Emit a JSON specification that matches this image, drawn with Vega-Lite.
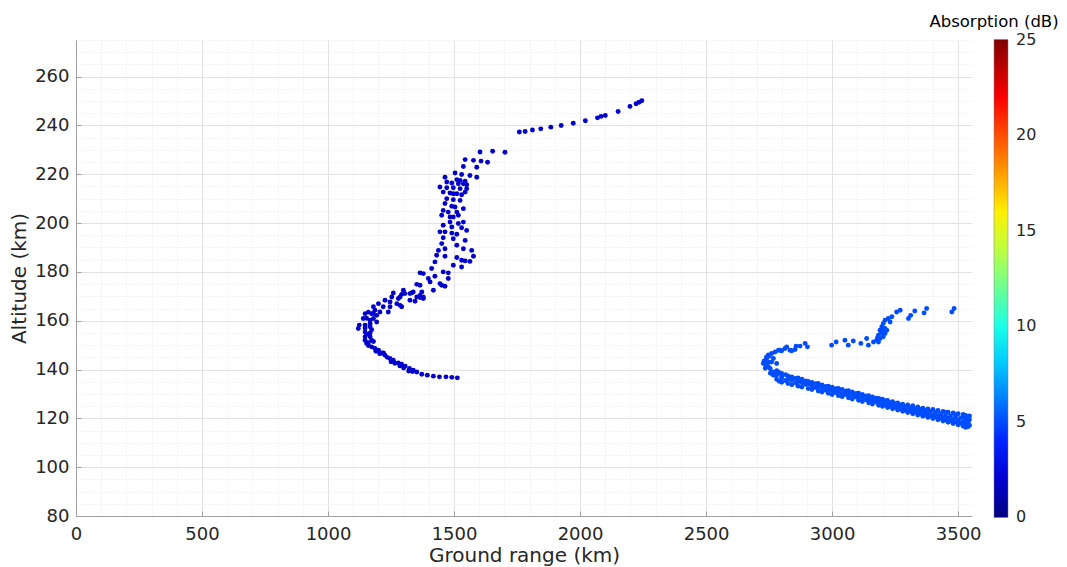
{
  "$schema": "https://vega.github.io/schema/vega-lite/v6.json",
  "width": 896,
  "height": 476,
  "autosize": {"type": "none"},
  "padding": {"left": 76, "top": 40, "right": 95, "bottom": 51},
  "background": "white",
  "config": {"view": {"stroke": null}, "font": "DejaVu Sans"},
  "datasets": {
    "pts": [
      {"x":2245,"y":250.1,"a":1.9},{"x":2234,"y":249.5,"a":1.9},{"x":2222,"y":248.9,"a":1.9},{"x":2198,"y":247.8,"a":1.9},{"x":2151,"y":245.7,"a":1.9},{"x":2100,"y":244.1,"a":1.9},{"x":2083,"y":243.7,"a":1.9},{"x":2069,"y":243.1,"a":1.9},{"x":2021,"y":241.9,"a":1.9},{"x":1973,"y":240.9,"a":1.9},{"x":1925,"y":240.0,"a":1.9},{"x":1884,"y":239.3,"a":1.9},{"x":1844,"y":238.6,"a":1.9},{"x":1811,"y":238.1,"a":1.9},{"x":1782,"y":237.5,"a":1.9},{"x":1759,"y":237.3,"a":1.9},{"x":1702,"y":229.0,"a":1.9},{"x":1653,"y":229.4,"a":1.9},{"x":1603,"y":229.1,"a":1.9},{"x":1633,"y":224.9,"a":1.9},
      {"x":1544,"y":226.0,"a":1.9},{"x":1577,"y":225.7,"a":1.9},{"x":1607,"y":225.4,"a":1.9},{"x":1537,"y":223.2,"a":1.9},{"x":1590,"y":222.9,"a":1.9},{"x":1504,"y":220.5,"a":1.9},{"x":1530,"y":219.9,"a":1.9},{"x":1563,"y":219.5,"a":1.9},{"x":1590,"y":218.8,"a":1.9},{"x":1464,"y":218.8,"a":1.9},{"x":1511,"y":217.8,"a":1.9},{"x":1524,"y":217.5,"a":1.9},{"x":1544,"y":217.2,"a":1.9},{"x":1471,"y":216.8,"a":1.9},{"x":1491,"y":216.4,"a":1.9},{"x":1517,"y":216.1,"a":1.9},{"x":1537,"y":216.1,"a":1.9},{"x":1550,"y":215.7,"a":1.9},{"x":1444,"y":214.8,"a":1.9},{"x":1471,"y":214.5,"a":1.9},{"x":1497,"y":214.5,"a":1.9},{"x":1524,"y":214.1,"a":1.9},{"x":1550,"y":214.1,"a":1.9},{"x":1457,"y":212.7,"a":1.9},{"x":1484,"y":212.3,"a":1.9},{"x":1497,"y":212.0,"a":1.9},{"x":1511,"y":212.0,"a":1.9},{"x":1530,"y":211.6,"a":1.9},{"x":1544,"y":212.7,"a":1.9},{"x":1471,"y":210.0,"a":1.9},{"x":1497,"y":209.6,"a":1.9},{"x":1524,"y":209.3,"a":1.9},{"x":1464,"y":208.0,"a":1.9},{"x":1491,"y":206.9,"a":1.9},{"x":1504,"y":206.6,"a":1.9},{"x":1537,"y":205.9,"a":1.9},{"x":1457,"y":205.2,"a":1.9},{"x":1477,"y":204.5,"a":1.9},{"x":1511,"y":204.5,"a":1.9},{"x":1451,"y":203.2,"a":1.9},{"x":1484,"y":202.5,"a":1.9},{"x":1497,"y":202.5,"a":1.9},{"x":1517,"y":203.2,"a":1.9},{"x":1484,"y":200.4,"a":1.9},{"x":1517,"y":199.8,"a":1.9},{"x":1537,"y":200.4,"a":1.9},{"x":1457,"y":199.1,"a":1.9},{"x":1491,"y":198.4,"a":1.9},{"x":1530,"y":198.1,"a":1.9},{"x":1444,"y":196.4,"a":1.9},{"x":1464,"y":196.4,"a":1.9},{"x":1491,"y":195.9,"a":1.9},{"x":1511,"y":195.4,"a":1.9},{"x":1550,"y":197.0,"a":1.9},{"x":1457,"y":194.0,"a":1.9},{"x":1497,"y":193.6,"a":1.9},{"x":1544,"y":192.9,"a":1.9},{"x":1451,"y":191.6,"a":1.9},{"x":1511,"y":190.9,"a":1.9},{"x":1464,"y":189.5,"a":1.9},{"x":1537,"y":189.5,"a":1.9},{"x":1570,"y":188.8,"a":1.9},{"x":1438,"y":188.8,"a":1.9},{"x":1431,"y":186.8,"a":1.9},{"x":1464,"y":186.4,"a":1.9},{"x":1511,"y":185.9,"a":1.9},{"x":1577,"y":186.4,"a":1.9},{"x":1530,"y":184.8,"a":1.9},{"x":1544,"y":184.5,"a":1.9},{"x":1563,"y":184.3,"a":1.9},{"x":1424,"y":184.1,"a":1.9},{"x":1497,"y":182.7,"a":1.9},{"x":1530,"y":182.0,"a":1.9},{"x":1411,"y":181.4,"a":1.9},{"x":1365,"y":179.6,"a":1.9},{"x":1378,"y":179.3,"a":1.9},{"x":1457,"y":180.0,"a":1.9},{"x":1477,"y":179.6,"a":1.9},{"x":1424,"y":178.2,"a":1.9},{"x":1398,"y":177.3,"a":1.9},{"x":1477,"y":177.3,"a":1.9},{"x":1352,"y":174.9,"a":1.9},{"x":1365,"y":174.5,"a":1.9},{"x":1444,"y":175.2,"a":1.9},{"x":1451,"y":174.5,"a":1.9},{"x":1464,"y":174.1,"a":1.9},{"x":1405,"y":175.9,"a":1.9},{"x":1299,"y":172.5,"a":1.9},{"x":1338,"y":171.8,"a":1.9},{"x":1286,"y":169.7,"a":1.9},{"x":1325,"y":171.1,"a":1.9},{"x":1365,"y":170.4,"a":1.9},{"x":1378,"y":169.7,"a":1.9},{"x":1418,"y":172.5,"a":1.9},
      {"x":1259,"y":171.4,"a":1.9},{"x":1292,"y":170.8,"a":1.9},{"x":1305,"y":171.1,"a":1.9},{"x":1332,"y":171.4,"a":1.9},{"x":1372,"y":171.8,"a":1.9},{"x":1352,"y":169.7,"a":1.9},{"x":1365,"y":169.5,"a":1.9},{"x":1378,"y":169.1,"a":1.9},{"x":1253,"y":169.7,"a":1.9},{"x":1279,"y":169.1,"a":1.9},{"x":1325,"y":168.4,"a":1.9},{"x":1345,"y":168.0,"a":1.9},{"x":1226,"y":168.4,"a":1.9},{"x":1246,"y":167.7,"a":1.9},{"x":1273,"y":167.0,"a":1.9},{"x":1286,"y":166.3,"a":1.9},{"x":1292,"y":165.7,"a":1.9},{"x":1200,"y":167.0,"a":1.9},{"x":1219,"y":165.7,"a":1.9},{"x":1246,"y":165.7,"a":1.9},{"x":1239,"y":163.6,"a":1.9},{"x":1206,"y":163.6,"a":1.9},{"x":1180,"y":165.7,"a":1.9},{"x":1186,"y":164.3,"a":1.9},{"x":1173,"y":162.9,"a":1.9},{"x":1193,"y":162.2,"a":1.9},{"x":1147,"y":162.9,"a":1.9},{"x":1140,"y":160.9,"a":1.9},{"x":1167,"y":160.2,"a":1.9},{"x":1180,"y":160.9,"a":1.9},{"x":1193,"y":159.5,"a":1.9},{"x":1124,"y":158.2,"a":1.9},{"x":1120,"y":156.8,"a":1.9},{"x":1147,"y":158.2,"a":1.9},{"x":1167,"y":157.5,"a":1.9},{"x":1147,"y":155.4,"a":1.9},{"x":1167,"y":155.0,"a":1.9},{"x":1147,"y":153.4,"a":1.9},{"x":1167,"y":153.4,"a":1.9},{"x":1147,"y":152.0,"a":1.9},{"x":1173,"y":152.0,"a":1.9},{"x":1153,"y":150.7,"a":1.9},{"x":1173,"y":149.3,"a":1.9},{"x":1186,"y":148.6,"a":1.9},{"x":1200,"y":147.9,"a":1.9},{"x":1213,"y":146.8,"a":1.9},{"x":1226,"y":145.9,"a":1.9},{"x":1246,"y":144.5,"a":1.9},{"x":1259,"y":143.8,"a":1.9},{"x":1279,"y":142.7,"a":1.9},{"x":1292,"y":142.2,"a":1.9},{"x":1306,"y":141.4,"a":1.9},{"x":1323,"y":140.4,"a":1.9},{"x":1338,"y":139.7,"a":1.9},{"x":1352,"y":139.0,"a":1.9},{"x":1372,"y":138.1,"a":1.9},{"x":1394,"y":137.7,"a":1.9},{"x":1418,"y":137.3,"a":1.9},{"x":1442,"y":137.0,"a":1.9},{"x":1468,"y":137.0,"a":1.9},{"x":1491,"y":136.8,"a":1.9},{"x":1513,"y":136.6,"a":1.9},
      {"x":1160,"y":151.0,"a":1.9},{"x":1180,"y":151.5,"a":1.9},{"x":1190,"y":147.5,"a":1.9},{"x":1205,"y":146.5,"a":1.9},{"x":1220,"y":146.8,"a":1.9},{"x":1235,"y":145.0,"a":1.9},{"x":1250,"y":143.2,"a":1.9},{"x":1265,"y":142.6,"a":1.9},{"x":1285,"y":141.5,"a":1.9},{"x":1300,"y":140.6,"a":1.9},{"x":1320,"y":139.4,"a":1.9},{"x":1335,"y":139.2,"a":1.9},{"x":1153,"y":161.0,"a":1.9},{"x":1147,"y":157.0,"a":1.9},{"x":1153,"y":154.5,"a":1.9},{"x":1160,"y":149.8,"a":1.9},{"x":1167,"y":158.8,"a":1.9},{"x":1173,"y":156.3,"a":1.9},{"x":1160,"y":163.5,"a":1.9},{"x":1180,"y":163.0,"a":1.9},
      {"x":2727,"y":142.5,"a":5},{"x":2730,"y":143.5,"a":5},{"x":2734,"y":143.1,"a":5},{"x":2740,"y":144.5,"a":5},{"x":2740,"y":145.2,"a":5},{"x":2740,"y":141.8,"a":5},{"x":2747,"y":141.1,"a":5},{"x":2751,"y":145.5,"a":5},{"x":2754,"y":140.4,"a":5},{"x":2760,"y":146.6,"a":5},{"x":2760,"y":143.1,"a":5},{"x":2760,"y":139.0,"a":5},{"x":2767,"y":144.5,"a":5},{"x":2767,"y":139.0,"a":5},{"x":2767,"y":137.7,"a":5},{"x":2774,"y":147.2,"a":5},{"x":2774,"y":137.7,"a":5},{"x":2780,"y":142.5,"a":5},{"x":2787,"y":147.9,"a":5},{"x":2787,"y":139.0,"a":5},{"x":2794,"y":147.9,"a":5},{"x":2800,"y":147.7,"a":5},{"x":2800,"y":137.0,"a":5},{"x":2813,"y":148.6,"a":5},{"x":2820,"y":149.3,"a":5},{"x":2833,"y":147.9,"a":5},{"x":2840,"y":147.7,"a":5},{"x":2853,"y":148.2,"a":5},{"x":2857,"y":149.6,"a":5},{"x":2873,"y":149.6,"a":5},{"x":2893,"y":150.7,"a":5},{"x":2902,"y":149.3,"a":5},{"x":2747,"y":146.0,"a":5},{"x":2735,"y":140.5,"a":5},{"x":2750,"y":143.0,"a":5},{"x":2755,"y":138.5,"a":5},
      {"x":2998,"y":150.0,"a":5},{"x":3016,"y":151.3,"a":5},{"x":3051,"y":152.0,"a":5},{"x":3064,"y":150.0,"a":5},{"x":3084,"y":151.7,"a":5},{"x":3114,"y":150.7,"a":5},{"x":3137,"y":152.7,"a":5},{"x":3144,"y":150.0,"a":5},{"x":3164,"y":151.3,"a":5},
      {"x":3177,"y":152.0,"a":5},{"x":3184,"y":151.3,"a":5},{"x":3184,"y":154.1,"a":5},{"x":3190,"y":152.7,"a":5},{"x":3190,"y":156.1,"a":5},{"x":3197,"y":154.8,"a":5},{"x":3197,"y":157.5,"a":5},{"x":3203,"y":153.4,"a":5},{"x":3203,"y":158.9,"a":5},{"x":3210,"y":154.8,"a":5},{"x":3210,"y":156.8,"a":5},{"x":3210,"y":160.2,"a":5},{"x":3217,"y":156.1,"a":5},{"x":3223,"y":160.9,"a":5},{"x":3230,"y":159.5,"a":5},{"x":3237,"y":161.6,"a":5},{"x":3256,"y":163.6,"a":5},{"x":3270,"y":164.3,"a":5},{"x":3180,"y":153.0,"a":5},{"x":3193,"y":155.5,"a":5},{"x":3200,"y":157.0,"a":5},{"x":3205,"y":155.5,"a":5},
      {"x":3303,"y":160.9,"a":5},{"x":3312,"y":162.2,"a":5},{"x":3328,"y":164.0,"a":5},{"x":3365,"y":163.2,"a":5},{"x":3375,"y":165.0,"a":5},{"x":3475,"y":163.6,"a":5},{"x":3484,"y":165.0,"a":5},
      {"x":2780,"y":136.0,"a":5},{"x":2780,"y":137.8,"a":5},{"x":2780,"y":139.5,"a":5},{"x":2790,"y":135.2,"a":5},{"x":2790,"y":138.5,"a":5},{"x":2800,"y":134.8,"a":5},{"x":2800,"y":136.6,"a":5},{"x":2800,"y":138.4,"a":5},{"x":2815,"y":135.5,"a":5},{"x":2815,"y":137.9,"a":5},{"x":2825,"y":134.3,"a":5},{"x":2825,"y":136.2,"a":5},{"x":2825,"y":137.4,"a":5},{"x":2840,"y":133.8,"a":5},{"x":2840,"y":135.6,"a":5},{"x":2840,"y":137.0,"a":5},{"x":2855,"y":134.5,"a":5},{"x":2855,"y":136.3,"a":5},{"x":2865,"y":133.2,"a":5},{"x":2865,"y":135.0,"a":5},{"x":2865,"y":136.6,"a":5},{"x":2880,"y":132.8,"a":5},{"x":2880,"y":134.6,"a":5},{"x":2880,"y":136.0,"a":5},{"x":2895,"y":133.9,"a":5},{"x":2895,"y":135.3,"a":5},{"x":2905,"y":132.2,"a":5},{"x":2905,"y":134.0,"a":5},{"x":2905,"y":135.1,"a":5},{"x":2920,"y":131.8,"a":5},{"x":2920,"y":133.3,"a":5},{"x":2920,"y":134.7,"a":5},{"x":2935,"y":132.6,"a":5},{"x":2935,"y":134.2,"a":5},{"x":2945,"y":131.2,"a":5},{"x":2945,"y":133.0,"a":5},{"x":2945,"y":134.3,"a":5},{"x":2960,"y":130.8,"a":5},{"x":2960,"y":132.4,"a":5},{"x":2960,"y":133.7,"a":5},{"x":2975,"y":131.5,"a":5},{"x":2975,"y":133.1,"a":5},{"x":2985,"y":130.3,"a":5},{"x":2985,"y":132.0,"a":5},{"x":2985,"y":133.2,"a":5},{"x":3000,"y":129.8,"a":5},{"x":3000,"y":131.4,"a":5},{"x":3000,"y":132.8,"a":5},{"x":3015,"y":130.6,"a":5},{"x":3015,"y":132.2,"a":5},{"x":3025,"y":129.3,"a":5},{"x":3025,"y":131.0,"a":5},{"x":3025,"y":132.3,"a":5},{"x":3040,"y":128.9,"a":5},{"x":3040,"y":130.2,"a":5},{"x":3040,"y":131.8,"a":5},{"x":3055,"y":129.8,"a":5},{"x":3055,"y":131.2,"a":5},{"x":3065,"y":128.4,"a":5},{"x":3065,"y":130.0,"a":5},{"x":3065,"y":131.3,"a":5},{"x":3080,"y":127.9,"a":5},{"x":3080,"y":129.3,"a":5},{"x":3080,"y":130.8,"a":5},{"x":3095,"y":128.7,"a":5},{"x":3095,"y":130.2,"a":5},{"x":3105,"y":127.4,"a":5},{"x":3105,"y":128.9,"a":5},{"x":3105,"y":130.3,"a":5},{"x":3120,"y":126.9,"a":5},{"x":3120,"y":128.4,"a":5},{"x":3120,"y":129.8,"a":5},{"x":3135,"y":127.6,"a":5},{"x":3135,"y":129.2,"a":5},{"x":3145,"y":126.4,"a":5},{"x":3145,"y":127.9,"a":5},{"x":3145,"y":129.3,"a":5},{"x":3160,"y":125.9,"a":5},{"x":3160,"y":127.2,"a":5},{"x":3160,"y":128.8,"a":5},{"x":3175,"y":126.6,"a":5},{"x":3175,"y":128.3,"a":5},{"x":3185,"y":125.4,"a":5},{"x":3185,"y":126.9,"a":5},{"x":3185,"y":128.2,"a":5},{"x":3200,"y":124.9,"a":5},{"x":3200,"y":126.2,"a":5},{"x":3200,"y":127.8,"a":5},{"x":3210,"y":125.6,"a":5},{"x":3210,"y":127.2,"a":5},{"x":3220,"y":124.4,"a":5},{"x":3220,"y":125.8,"a":5},{"x":3220,"y":127.3,"a":5},{"x":3230,"y":124.9,"a":5},{"x":3230,"y":126.4,"a":5},{"x":3240,"y":123.9,"a":5},{"x":3240,"y":125.2,"a":5},{"x":3240,"y":126.8,"a":5},{"x":3250,"y":124.5,"a":5},{"x":3250,"y":126.0,"a":5},{"x":3260,"y":123.4,"a":5},{"x":3260,"y":124.8,"a":5},{"x":3260,"y":126.3,"a":5},{"x":3270,"y":123.8,"a":5},{"x":3270,"y":125.5,"a":5},{"x":3280,"y":122.9,"a":5},{"x":3280,"y":124.3,"a":5},{"x":3280,"y":125.8,"a":5},{"x":3290,"y":123.3,"a":5},{"x":3290,"y":124.9,"a":5},{"x":3300,"y":122.4,"a":5},{"x":3300,"y":123.8,"a":5},{"x":3300,"y":125.5,"a":5},{"x":3310,"y":122.9,"a":5},{"x":3310,"y":124.5,"a":5},{"x":3320,"y":121.9,"a":5},{"x":3320,"y":123.4,"a":5},{"x":3320,"y":125.2,"a":5},{"x":3330,"y":122.5,"a":5},{"x":3330,"y":124.0,"a":5},{"x":3340,"y":121.4,"a":5},{"x":3340,"y":122.9,"a":5},{"x":3340,"y":124.7,"a":5},{"x":3350,"y":122.0,"a":5},{"x":3350,"y":123.6,"a":5},{"x":3360,"y":120.9,"a":5},{"x":3360,"y":122.4,"a":5},{"x":3360,"y":124.2,"a":5},{"x":3370,"y":121.5,"a":5},{"x":3370,"y":123.1,"a":5},{"x":3380,"y":120.4,"a":5},{"x":3380,"y":121.9,"a":5},{"x":3380,"y":123.9,"a":5},{"x":3390,"y":121.0,"a":5},{"x":3390,"y":122.8,"a":5},{"x":3400,"y":119.9,"a":5},{"x":3400,"y":121.4,"a":5},{"x":3400,"y":123.6,"a":5},{"x":3410,"y":120.5,"a":5},{"x":3410,"y":122.4,"a":5},{"x":3420,"y":119.4,"a":5},{"x":3420,"y":121.0,"a":5},{"x":3420,"y":123.2,"a":5},{"x":3430,"y":120.0,"a":5},{"x":3430,"y":121.8,"a":5},{"x":3440,"y":118.9,"a":5},{"x":3440,"y":120.5,"a":5},{"x":3440,"y":122.8,"a":5},{"x":3450,"y":119.5,"a":5},{"x":3450,"y":121.4,"a":5},{"x":3450,"y":122.4,"a":5},{"x":3460,"y":118.4,"a":5},{"x":3460,"y":120.1,"a":5},{"x":3460,"y":122.5,"a":5},{"x":3470,"y":119.0,"a":5},{"x":3470,"y":121.0,"a":5},{"x":3480,"y":117.9,"a":5},{"x":3480,"y":119.6,"a":5},{"x":3480,"y":122.2,"a":5},{"x":3490,"y":118.5,"a":5},{"x":3490,"y":120.6,"a":5},{"x":3490,"y":121.5,"a":5},{"x":3500,"y":117.4,"a":5},{"x":3500,"y":119.2,"a":5},{"x":3500,"y":121.9,"a":5},{"x":3510,"y":118.0,"a":5},{"x":3510,"y":120.2,"a":5},{"x":3520,"y":116.8,"a":5},{"x":3520,"y":118.6,"a":5},{"x":3520,"y":121.6,"a":5},{"x":3525,"y":117.5,"a":5},{"x":3525,"y":120.5,"a":5},{"x":3530,"y":116.3,"a":5},{"x":3530,"y":118.0,"a":5},{"x":3530,"y":119.6,"a":5},{"x":3530,"y":121.2,"a":5},{"x":3540,"y":116.6,"a":5},{"x":3540,"y":118.5,"a":5},{"x":3540,"y":120.3,"a":5},{"x":3545,"y":117.2,"a":5},{"x":3545,"y":119.4,"a":5},{"x":3545,"y":121.0,"a":5}
    ]
  },
  "data": {"name": "pts"},
  "resolve": {"axis": {"x": "independent", "y": "independent"}},
  "layer": [
    {
      "mark": {"type": "point", "opacity": 0},
      "encoding": {
        "x": {"field": "x", "type": "quantitative",
          "scale": {"domain": [0, 3555], "nice": false, "zero": false},
          "axis": {"orient": "bottom", "values": [100,200,300,400,600,700,800,900,1100,1200,1300,1400,1600,1700,1800,1900,2100,2200,2300,2400,2600,2700,2800,2900,3100,3200,3300,3400],
            "labels": false, "ticks": false, "domain": false, "title": null,
            "grid": true, "gridColor": "#e9e9e9", "gridDash": [1, 2], "gridWidth": 1}},
        "y": {"field": "y", "type": "quantitative",
          "scale": {"domain": [80, 275], "nice": false, "zero": false},
          "axis": {"orient": "left", "values": [85,90,95,105,110,115,125,130,135,145,150,155,165,170,175,185,190,195,205,210,215,225,230,235,245,250,255,265,270,275],
            "labels": false, "ticks": false, "domain": false, "title": null,
            "grid": true, "gridColor": "#e9e9e9", "gridDash": [1, 2], "gridWidth": 1}}
      }
    },
    {
      "mark": {"type": "circle", "size": 24, "opacity": 1},
      "encoding": {
        "x": {"field": "x", "type": "quantitative",
          "scale": {"domain": [0, 3555], "nice": false, "zero": false},
          "axis": {"orient": "bottom", "values": [0,500,1000,1500,2000,2500,3000,3500], "format": "d", "labelFlush": false,
            "title": "Ground range (km)", "titleFontSize": 20, "titleFontWeight": "normal", "titleColor": "#262626", "titlePadding": 2,
            "labelFontSize": 18, "labelColor": "#262626", "labelPadding": 14,
            "tickSize": -5, "tickColor": "#a0a0a0", "domainColor": "#a0a0a0",
            "grid": true, "gridColor": "#e2e2e2", "gridWidth": 1}},
        "y": {"field": "y", "type": "quantitative",
          "scale": {"domain": [80, 275], "nice": false, "zero": false},
          "axis": {"orient": "left", "values": [80,100,120,140,160,180,200,220,240,260], "format": "d", "labelFlush": false,
            "title": "Altitude (km)", "titleFontSize": 20, "titleFontWeight": "normal", "titleColor": "#262626", "titlePadding": 5,
            "labelFontSize": 18, "labelColor": "#262626", "labelPadding": 12,
            "tickSize": -5, "tickColor": "#a0a0a0", "domainColor": "#a0a0a0",
            "grid": true, "gridColor": "#e2e2e2", "gridWidth": 1}},
        "color": {"field": "a", "type": "quantitative",
          "scale": {"domain": [-0.001, 3.125, 9.375, 15.625, 21.875, 25.001],
            "range": ["#000080", "#0000ff", "#00ffff", "#ffff00", "#ff0000", "#800000"],
            "interpolate": "rgb"},
          "legend": {"orient": "none", "legendX": 853, "legendY": -26, "direction": "vertical",
            "title": "Absorption (dB)", "titleFontSize": 16.5, "titleFontWeight": "normal", "titleColor": "#000000",
            "titleAlign": "center", "titleAnchor": "start", "titlePadding": 9,
            "gradientLength": 478, "gradientThickness": 14, "gradientStrokeColor": "#808080", "gradientStrokeWidth": 0.5,
            "values": [0, 5, 10, 15, 20, 25], "labelFontSize": 16, "labelColor": "#262626", "labelOffset": 8,
            "labelBaseline": "middle", "labelOverlap": false}}
      }
    }
  ]
}
